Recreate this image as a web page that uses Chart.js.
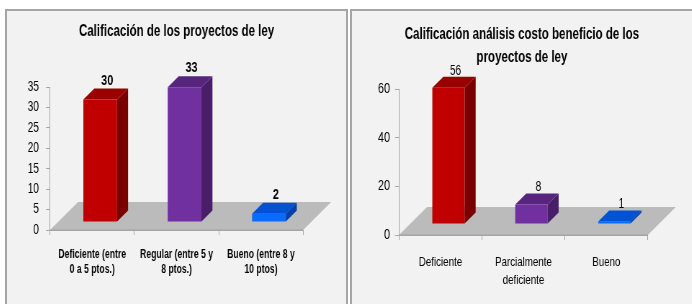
<!DOCTYPE html>
<html>
<head>
<meta charset="utf-8">
<script src="https://cdn.jsdelivr.net/npm/chart.js"></script>
<style>
body { margin: 0; background: #fff; width: 692px; height: 304px; overflow: hidden; position: relative; }
.panel { position: absolute; top: 9px; height: 295px; background: #f2f2f2; border: 2px solid #a5a5a5; border-bottom: none; overflow: hidden; }
#p1 { left: 5px; width: 339px; }
#p2 { left: 350px; width: 345px; }
/* the original picture is squeezed sideways, so draw wide and squeeze */
canvas { display: block; transform: scaleX(0.72); transform-origin: 0 0; }
</style>
</head>
<body>
<div class="panel" id="p1"><canvas id="left" width="471" height="293"></canvas></div>
<div class="panel" id="p2"><canvas id="right" width="472" height="293"></canvas></div>
<script>
const SQ = 0.72;
const FONT = "'Liberation Sans', Arial, sans-serif";

// Calificación de los proyectos de ley
const cats1 = [['Deficiente (entre', '0 a 5 ptos.)'], ['Regular (entre 5 y', '8 ptos.)'], ['Bueno (entre 8 y', '10 ptos)']];
const vals1 = [30, 33, 2];
const ticks1 = [0, 5, 10, 15, 20, 25, 30, 35];

// Calificación análisis costo beneficio
const cats2 = ['Deficiente', ['Parcialmente', 'deficiente'], 'Bueno'];
const vals2 = [56, 8, 1];
const ticks2 = [0, 20, 40, 60];

// front / top / side faces
const fronts = ['#c00000', '#7030a0', '#0a6cff'];
const tops = ['#990000', '#57257e', '#0052d4'];
const sides = ['#7a0000', '#481e68', '#0040a8'];

// fake 3d: floor, shifted bars, top + side faces, value labels
const bars3d = {
    id: 'bars3d',
    beforeDatasetsDraw(chart, args, opts) {
        const { ctx, chartArea } = chart;
        const y0 = chart.scales.y.getPixelForValue(0);
        const fx = opts.floor / SQ, fy = opts.floor;
        ctx.save();
        ctx.fillStyle = '#bbbbbb';
        ctx.beginPath();
        ctx.moveTo(chartArea.left, y0);
        ctx.lineTo(chartArea.left + fx, y0 - fy);
        ctx.lineTo(chartArea.right + fx, y0 - fy);
        ctx.lineTo(chartArea.right, y0);
        ctx.closePath();
        ctx.fill();
        ctx.strokeStyle = '#a3a3a3';
        ctx.beginPath();
        ctx.moveTo(chartArea.left, y0);
        ctx.lineTo(chartArea.right, y0);
        ctx.stroke();
        ctx.restore();
        ctx.save();
        ctx.translate(opts.shiftX / SQ, -opts.shiftY);
    },
    afterDatasetsDraw(chart, args, opts) {
        const { ctx } = chart;
        const dx = opts.depth / SQ, dy = opts.depth;
        const data = chart.data.datasets[0].data;
        chart.getDatasetMeta(0).data.forEach((bar, i) => {
            const l = bar.x - bar.width / 2, r = bar.x + bar.width / 2;
            ctx.fillStyle = tops[i];
            ctx.beginPath();
            ctx.moveTo(l, bar.y);
            ctx.lineTo(l + dx, bar.y - dy);
            ctx.lineTo(r + dx, bar.y - dy);
            ctx.lineTo(r, bar.y);
            ctx.closePath();
            ctx.fill();
            ctx.fillStyle = sides[i];
            ctx.beginPath();
            ctx.moveTo(r, bar.y);
            ctx.lineTo(r + dx, bar.y - dy);
            ctx.lineTo(r + dx, bar.base - dy);
            ctx.lineTo(r, bar.base);
            ctx.closePath();
            ctx.fill();

            ctx.fillStyle = '#000';
            ctx.font = opts.labelFont;
            ctx.textAlign = 'center';
            ctx.textBaseline = 'middle';
            ctx.fillText(String(data[i]), bar.x + opts.labelDx / SQ, bar.y - opts.labelDy);
        });
        ctx.restore();
    }
};

const makeChart = (id, cats, vals, c) => new Chart(document.getElementById(id), {
    type: 'bar',
    data: {
        labels: cats,
        datasets: [{
            data: vals,
            backgroundColor: fronts,
            borderWidth: 0,
            barPercentage: c.barPct,
            categoryPercentage: 1,
            clip: false
        }]
    },
    plugins: [bars3d],
    options: {
        responsive: false,
        animation: false,
        layout: { padding: 0 },
        plugins: {
            legend: { display: false },
            tooltip: { enabled: false },
            title: {
                display: true,
                text: c.title,
                color: '#000',
                font: { family: FONT, size: 16, weight: 'bold', lineHeight: c.titleLH },
                padding: c.titlePad
            },
            bars3d: {
                floor: 28,
                depth: 11,
                shiftX: 8,
                shiftY: c.shiftY,
                labelDx: 7,
                labelDy: c.labelDy,
                labelFont: c.labelFont
            }
        },
        scales: {
            x: {
                grid: { offset: true, drawOnChartArea: false, tickLength: 5, color: '#a6a6a6' },
                border: { color: '#a6a6a6' },
                ticks: {
                    color: '#000',
                    autoSkip: false,
                    maxRotation: 0,
                    padding: c.xPad,
                    font: { family: FONT, size: c.xSize, weight: c.xWeight, lineHeight: c.xLH }
                },
                afterFit: s => { s.height = c.xH; }
            },
            y: {
                min: 0,
                max: c.max,
                afterBuildTicks: s => { s.ticks = c.ticks.map(v => ({ value: v })); },
                grid: { drawOnChartArea: false, tickLength: 5.5, color: '#a6a6a6' },
                border: { color: '#a6a6a6' },
                ticks: { color: '#000', padding: c.yPad, font: { family: FONT, size: c.ySize } },
                afterFit: s => { s.width = c.yW / SQ; }
            },
            // empty box on the right, keeps the floor room and the title centred
            spare: {
                position: 'right',
                min: 0,
                max: 1,
                grid: { display: false },
                border: { display: false },
                ticks: { display: false },
                afterFit: s => { s.width = c.spareW / SQ; }
            }
        }
    }
});

makeChart('left', cats1, vals1, {
    title: 'Calificación de los proyectos de ley',
    titleLH: 1.2,
    titlePad: { top: 11.4, bottom: 45.4 },
    max: 35, ticks: ticks1,
    yW: 43, spareW: 43, xH: 74,
    barPct: 0.4, shiftY: 8,
    labelDy: 19, labelFont: "bold 15px " + FONT,
    xPad: 12, xSize: 12, xWeight: 'bold', xLH: 1.25,
    yPad: 10, ySize: 14
});

makeChart('right', cats2, vals2, {
    title: ['Calificación análisis costo beneficio de los', 'proyectos de ley'],
    titleLH: 1.4,
    titlePad: { top: 12.8, bottom: 20.4 },
    max: 60, ticks: ticks2,
    yW: 47, spareW: 44, xH: 69,
    barPct: 0.39, shiftY: 11,
    labelDy: 17, labelFont: "14px " + FONT,
    xPad: 13, xSize: 13.5, xWeight: 'normal', xLH: 1.33,
    yPad: 7, ySize: 15
});
</script>
</body>
</html>
